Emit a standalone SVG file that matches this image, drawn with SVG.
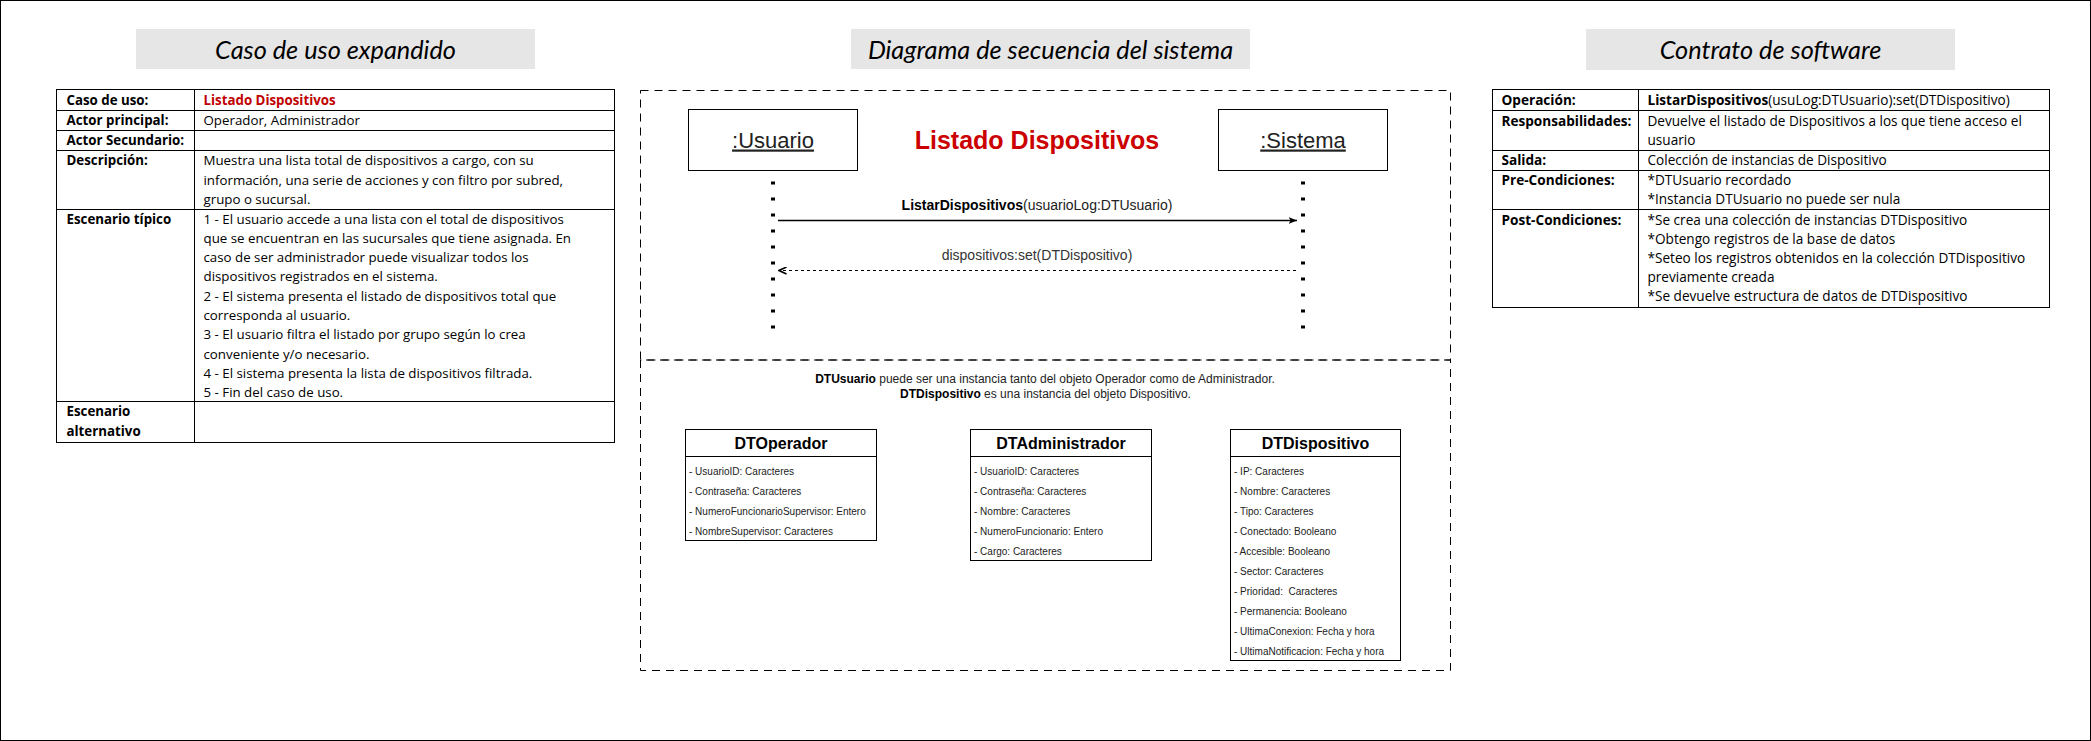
<svg xmlns="http://www.w3.org/2000/svg" width="2091" height="741" viewBox="0 0 2091 741">
<defs>
<marker id="classic" viewBox="0 0 9 8" markerWidth="9" markerHeight="8" refX="8.5" refY="4" orient="auto" markerUnits="userSpaceOnUse">
<path d="M0,0.5 L8.5,4 L0,7.5 L2.2,4 Z" fill="#000"/>
</marker>
<marker id="open" viewBox="0 0 9 8" markerWidth="9" markerHeight="8" refX="8" refY="4" orient="auto" markerUnits="userSpaceOnUse">
<path d="M0.5,0.5 L8,4 L0.5,7.5" fill="none" stroke="#000" stroke-width="1.6"/>
</marker>
</defs>
<style>
.tx{font-family:"Open Sans",Lato,"Liberation Sans",sans-serif;font-size:13.6px;fill:#000}
#tabla-caso .tx{font-size:13.3px}
.b{font-weight:bold}
.red{fill:#C00000}
.hdr{font-family:Lato,"Open Sans",sans-serif;font-style:italic;font-size:25.3px;fill:#000;text-anchor:middle}
.hbox{fill:#e7e6e6}
.grid{stroke:#000;stroke-width:1;fill:none}
.ar{font-family:"Liberation Sans",Arial,sans-serif;fill:#222}
.frame{fill:none;stroke:#000;stroke-width:1;stroke-dasharray:8 6}
.box{fill:#fff;stroke:#000;stroke-width:1}
.life{stroke:#000;stroke-width:4;stroke-dasharray:3 13;fill:none}
.attr{font-family:"Liberation Sans",Arial,sans-serif;font-size:10px;fill:#222}
.ctitle{font-family:"Liberation Sans",Arial,sans-serif;font-size:16px;font-weight:bold;fill:#000;text-anchor:middle}
</style>
<rect x="0" y="0" width="2091" height="741" fill="#fff"/>
<rect x="0.5" y="0.5" width="2090" height="740" fill="none" stroke="#000" stroke-width="1"/>

<g id="header-caso">
<rect class="hbox" x="136" y="29" width="399" height="40"/>
<text class="hdr" x="335.5" y="58.5">Caso de uso expandido</text>
</g>

<g id="tabla-caso">
<rect class="grid" x="56.5" y="89.5" width="558" height="353"/>
<path class="grid" d="M56.5,110.5H614.5M56.5,130.5H614.5M56.5,150.5H614.5M56.5,209.5H614.5M56.5,401.5H614.5M194.5,89.5V442.5"/>
<text class="tx b" x="66.5" y="104.5">Caso de uso:</text>
<text class="tx b red" x="203.5" y="104.5">Listado Dispositivos</text>
<text class="tx b" x="66.5" y="125">Actor principal:</text>
<text class="tx" x="203.5" y="125">Operador, Administrador</text>
<text class="tx b" x="66.5" y="145">Actor Secundario:</text>
<text class="tx b" x="66.5" y="165">Descripción:</text>
<text class="tx" x="203.5" y="165">Muestra una lista total de dispositivos a cargo, con su</text>
<text class="tx" x="203.5" y="184.5">información, una serie de acciones y con filtro por subred,</text>
<text class="tx" x="203.5" y="204">grupo o sucursal.</text>
<text class="tx b" x="66.5" y="223.5">Escenario típico</text>
<text class="tx" x="203.5" y="223.5">1 - El usuario accede a una lista con el total de dispositivos</text>
<text class="tx" x="203.5" y="242.8">que se encuentran en las sucursales que tiene asignada. En</text>
<text class="tx" x="203.5" y="262.1">caso de ser administrador puede visualizar todos los</text>
<text class="tx" x="203.5" y="281.4">dispositivos registrados en el sistema.</text>
<text class="tx" x="203.5" y="300.7">2 - El sistema presenta el listado de dispositivos total que</text>
<text class="tx" x="203.5" y="320">corresponda al usuario.</text>
<text class="tx" x="203.5" y="339.3">3 - El usuario filtra el listado por grupo según lo crea</text>
<text class="tx" x="203.5" y="358.6">conveniente y/o necesario.</text>
<text class="tx" x="203.5" y="377.9">4 - El sistema presenta la lista de dispositivos filtrada.</text>
<text class="tx" x="203.5" y="397.2">5 - Fin del caso de uso.</text>
<text class="tx b" x="66.5" y="416">Escenario</text>
<text class="tx b" x="66.5" y="435.5">alternativo</text>
</g>

<g id="header-secuencia">
<rect class="hbox" x="851" y="29" width="399" height="40"/>
<text class="hdr" x="1050.5" y="58.5">Diagrama de secuencia del sistema</text>
</g>

<g id="marco-secuencia">
<rect class="frame" x="640.5" y="90.5" width="810" height="269.5"/>
<rect class="frame" x="640.5" y="360" width="810" height="310.5" stroke-dashoffset="7"/>
</g>

<g id="titulo-secuencia">
<text class="ar" x="1037" y="149" font-size="25" font-weight="bold" text-anchor="middle" style="fill:#CC0000">Listado Dispositivos</text>
</g>

<g id="usuario">
<rect class="box" x="688.5" y="109.5" width="169" height="61"/>
<text class="ar" x="773" y="147.5" font-size="22" text-anchor="middle" text-decoration="underline">:Usuario</text>
</g>

<g id="sistema">
<rect class="box" x="1218.5" y="109.5" width="169" height="61"/>
<text class="ar" x="1303" y="147.5" font-size="22" text-anchor="middle" text-decoration="underline">:Sistema</text>
</g>

<g id="connectors">
<line class="life" x1="773" y1="181.5" x2="773" y2="332"/>
<line class="life" x1="1303" y1="181.5" x2="1303" y2="332"/>
<line x1="778" y1="220.5" x2="1297" y2="220.5" stroke="#000" stroke-width="1.3" marker-end="url(#classic)"/>
<text class="ar" x="1037" y="209.5" font-size="14" text-anchor="middle"><tspan font-weight="bold" fill="#000">ListarDispositivos</tspan>(usuarioLog:DTUsuario)</text>
<line x1="1296" y1="270.5" x2="779" y2="270.5" stroke="#000" stroke-width="1.2" stroke-dasharray="3 3" marker-end="url(#open)"/>
<text class="ar" x="1037" y="259.5" font-size="14" text-anchor="middle" style="fill:#333">dispositivos:set(DTDispositivo)</text>
</g>

<g id="nota">
<text class="ar" x="1045" y="383" font-size="12" text-anchor="middle"><tspan font-weight="bold" fill="#000">DTUsuario</tspan> puede ser una instancia tanto del objeto Operador como de Administrador.</text>
<text class="ar" x="1045.5" y="397.5" font-size="12" text-anchor="middle"><tspan font-weight="bold" fill="#000">DTDispositivo</tspan> es una instancia del objeto Dispositivo.</text>
</g>

<g id="DTOperador">
<rect class="box" x="685.5" y="429.5" width="191" height="111"/>
<line x1="685.5" y1="456.5" x2="876.5" y2="456.5" stroke="#000"/>
<text class="ctitle" x="781" y="449">DTOperador</text>
<text class="attr" x="689" y="474.5">- UsuarioID: Caracteres</text>
<text class="attr" x="689" y="494.5">- Contraseña: Caracteres</text>
<text class="attr" x="689" y="514.5">- NumeroFuncionarioSupervisor: Entero</text>
<text class="attr" x="689" y="534.5">- NombreSupervisor: Caracteres</text>
</g>

<g id="DTAdministrador">
<rect class="box" x="970.5" y="429.5" width="181" height="131"/>
<line x1="970.5" y1="456.5" x2="1151.5" y2="456.5" stroke="#000"/>
<text class="ctitle" x="1061" y="449">DTAdministrador</text>
<text class="attr" x="974" y="474.5">- UsuarioID: Caracteres</text>
<text class="attr" x="974" y="494.5">- Contraseña: Caracteres</text>
<text class="attr" x="974" y="514.5">- Nombre: Caracteres</text>
<text class="attr" x="974" y="534.5">- NumeroFuncionario: Entero</text>
<text class="attr" x="974" y="554.5">- Cargo: Caracteres</text>
</g>

<g id="DTDispositivo">
<rect class="box" x="1230.5" y="429.5" width="170" height="231"/>
<line x1="1230.5" y1="456.5" x2="1400.5" y2="456.5" stroke="#000"/>
<text class="ctitle" x="1315.5" y="449">DTDispositivo</text>
<text class="attr" x="1234" y="474.5">- IP: Caracteres</text>
<text class="attr" x="1234" y="494.5">- Nombre: Caracteres</text>
<text class="attr" x="1234" y="514.5">- Tipo: Caracteres</text>
<text class="attr" x="1234" y="534.5">- Conectado: Booleano</text>
<text class="attr" x="1234" y="554.5">- Accesible: Booleano</text>
<text class="attr" x="1234" y="574.5">- Sector: Caracteres</text>
<text class="attr" x="1234" y="594.5" xml:space="preserve">- Prioridad:  Caracteres</text>
<text class="attr" x="1234" y="614.5">- Permanencia: Booleano</text>
<text class="attr" x="1234" y="634.5">- UltimaConexion: Fecha y hora</text>
<text class="attr" x="1234" y="654.5">- UltimaNotificacion: Fecha y hora</text>
</g>

<g id="header-contrato">
<rect class="hbox" x="1586" y="29" width="369" height="41"/>
<text class="hdr" x="1770.5" y="58.5">Contrato de software</text>
</g>

<g id="tabla-contrato">
<rect class="grid" x="1492.5" y="89.5" width="557" height="218"/>
<path class="grid" d="M1492.5,110.5H2049.5M1492.5,150.5H2049.5M1492.5,170.5H2049.5M1492.5,209.5H2049.5M1638.5,89.5V307.5"/>
<text class="tx b" x="1501.5" y="105">Operación:</text>
<text class="tx" x="1647.5" y="105"><tspan class="b">ListarDispositivos</tspan>(usuLog:DTUsuario):set(DTDispositivo)</text>
<text class="tx b" x="1501.5" y="125.5">Responsabilidades:</text>
<text class="tx" x="1647.5" y="125.5">Devuelve el listado de Dispositivos a los que tiene acceso el</text>
<text class="tx" x="1647.5" y="144.8">usuario</text>
<text class="tx b" x="1501.5" y="165">Salida:</text>
<text class="tx" x="1647.5" y="165">Colección de instancias de Dispositivo</text>
<text class="tx b" x="1501.5" y="185">Pre-Condiciones:</text>
<text class="tx" x="1647.5" y="185">*DTUsuario recordado</text>
<text class="tx" x="1647.5" y="204.3">*Instancia DTUsuario no puede ser nula</text>
<text class="tx b" x="1501.5" y="224.5">Post-Condiciones:</text>
<text class="tx" x="1647.5" y="224.5">*Se crea una colección de instancias DTDispositivo</text>
<text class="tx" x="1647.5" y="243.6">*Obtengo registros de la base de datos</text>
<text class="tx" x="1647.5" y="262.7">*Seteo los registros obtenidos en la colección DTDispositivo</text>
<text class="tx" x="1647.5" y="281.8">previamente creada</text>
<text class="tx" x="1647.5" y="300.9">*Se devuelve estructura de datos de DTDispositivo</text>
</g>
</svg>
